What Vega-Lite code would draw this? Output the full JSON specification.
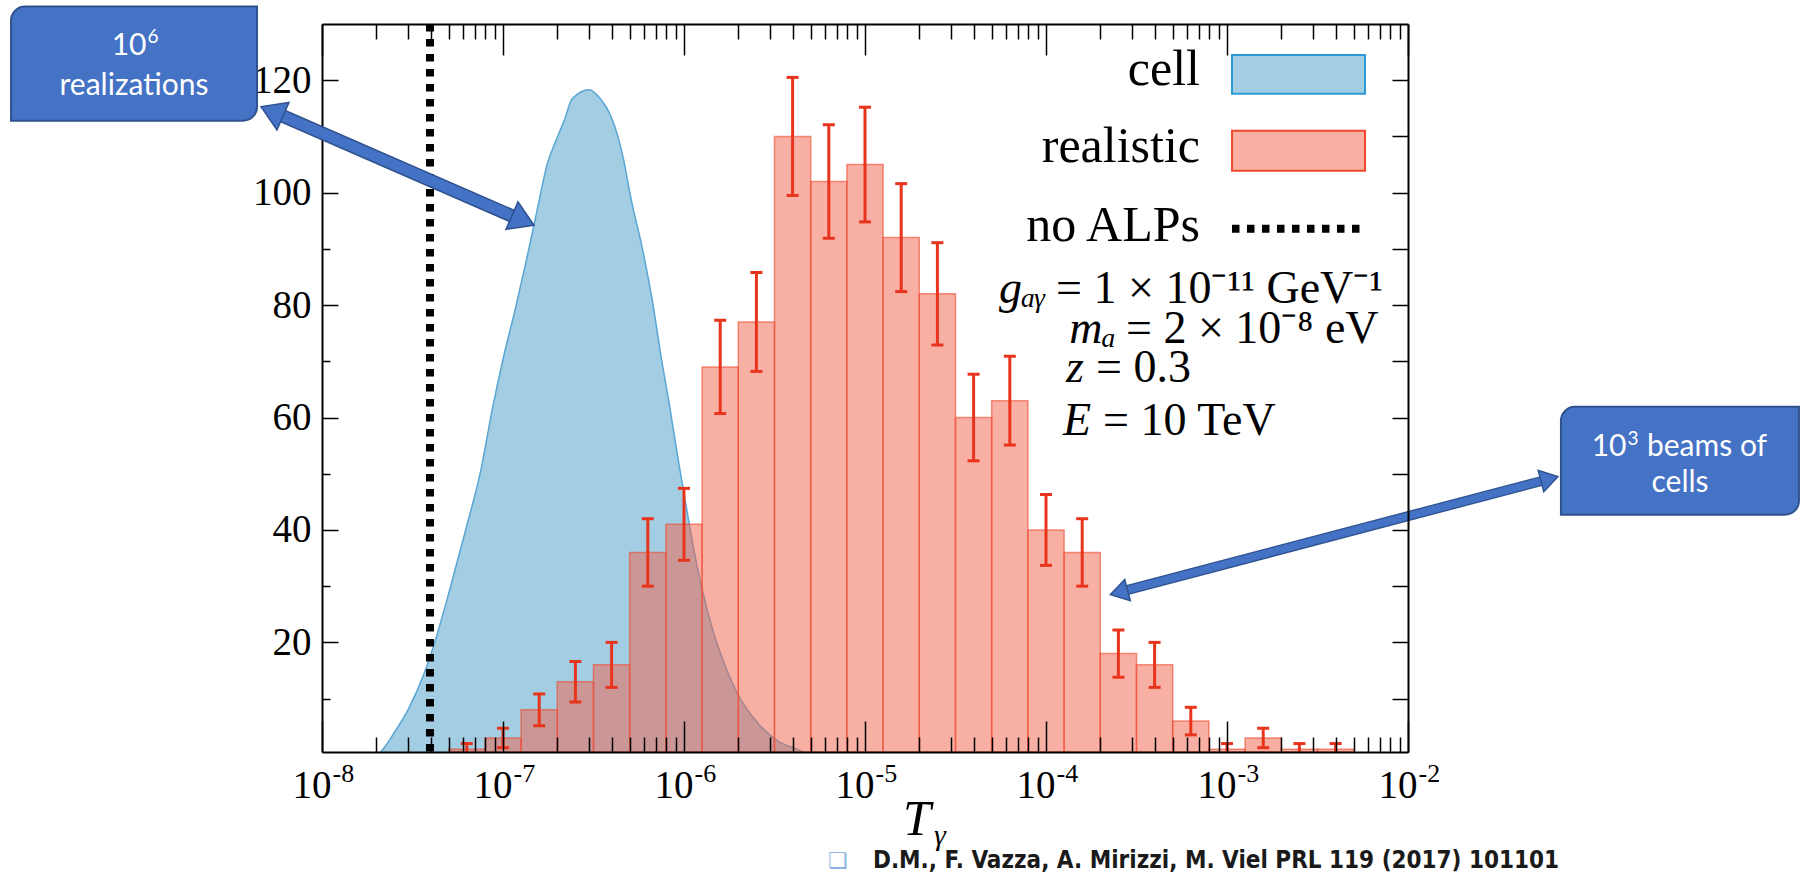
{
  "$schema": "https://vega.github.io/schema/vega-lite/v6.json",
  "width": 1086,
  "height": 728,
  "autosize": {"type": "none"},
  "padding": {"left": 322, "top": 24, "right": 393, "bottom": 124},
  "background": "white",
  "config": {"view": {"stroke": null}},
  "datasets": {
    "cell": [
      {"t": 2.05e-8, "n": 0}, {"t": 2.29e-8, "n": 2}, {"t": 2.48e-8, "n": 3.7}, {"t": 3.01e-8, "n": 8.2},
      {"t": 3.66e-8, "n": 14.4}, {"t": 4.23e-8, "n": 20.4}, {"t": 5.13e-8, "n": 29.9}, {"t": 6.22e-8, "n": 40},
      {"t": 7.55e-8, "n": 50.7}, {"t": 8.73e-8, "n": 61.5}, {"t": 1.009e-7, "n": 70.9}, {"t": 1.167e-7, "n": 79.2},
      {"t": 1.349e-7, "n": 88.1}, {"t": 1.56e-7, "n": 97.6}, {"t": 1.762e-7, "n": 105.3}, {"t": 1.941e-7, "n": 108.9},
      {"t": 2.188e-7, "n": 113.0}, {"t": 2.41e-7, "n": 116.7}, {"t": 3.0e-7, "n": 118.3}, {"t": 3.467e-7, "n": 116.6},
      {"t": 3.908e-7, "n": 113.9}, {"t": 4.305e-7, "n": 110.1}, {"t": 4.634e-7, "n": 105.9}, {"t": 5.105e-7, "n": 98.8},
      {"t": 5.902e-7, "n": 89.9}, {"t": 6.668e-7, "n": 81.0}, {"t": 7.516e-7, "n": 70.3}, {"t": 8.279e-7, "n": 62.5},
      {"t": 9.354e-7, "n": 51.9}, {"t": 1.03e-6, "n": 44.1}, {"t": 1.135e-6, "n": 36.4}, {"t": 1.25e-6, "n": 29.9},
      {"t": 1.445e-6, "n": 22.1}, {"t": 1.671e-6, "n": 16.2}, {"t": 2.028e-6, "n": 10.2}, {"t": 2.582e-6, "n": 5.5},
      {"t": 3.289e-6, "n": 2.5}, {"t": 4.395e-6, "n": 0.75}, {"t": 4.842e-6, "n": 0}
    ],
    "real": [
      {"a": 5.012e-8, "b": 7.943e-8, "c": 6.31e-8, "n": 1, "lo": 0, "hi": 2},
      {"a": 7.943e-8, "b": 1.259e-7, "c": 1.0e-7, "n": 3, "lo": 1.27, "hi": 4.73},
      {"a": 1.259e-7, "b": 1.995e-7, "c": 1.585e-7, "n": 8, "lo": 5.17, "hi": 10.83},
      {"a": 1.995e-7, "b": 3.162e-7, "c": 2.512e-7, "n": 13, "lo": 9.4, "hi": 16.6},
      {"a": 3.162e-7, "b": 5.012e-7, "c": 3.981e-7, "n": 16, "lo": 12, "hi": 20},
      {"a": 5.012e-7, "b": 7.943e-7, "c": 6.31e-7, "n": 36, "lo": 30, "hi": 42},
      {"a": 7.943e-7, "b": 1.259e-6, "c": 1.0e-6, "n": 41, "lo": 34.6, "hi": 47.4},
      {"a": 1.259e-6, "b": 1.995e-6, "c": 1.585e-6, "n": 69, "lo": 60.7, "hi": 77.3},
      {"a": 1.995e-6, "b": 3.162e-6, "c": 2.512e-6, "n": 77, "lo": 68.2, "hi": 85.8},
      {"a": 3.162e-6, "b": 5.012e-6, "c": 3.981e-6, "n": 110, "lo": 99.5, "hi": 120.5},
      {"a": 5.012e-6, "b": 7.943e-6, "c": 6.31e-6, "n": 102, "lo": 91.9, "hi": 112.1},
      {"a": 7.943e-6, "b": 1.259e-5, "c": 1.0e-5, "n": 105, "lo": 94.8, "hi": 115.2},
      {"a": 1.259e-5, "b": 1.995e-5, "c": 1.585e-5, "n": 92, "lo": 82.4, "hi": 101.6},
      {"a": 1.995e-5, "b": 3.162e-5, "c": 2.512e-5, "n": 82, "lo": 72.9, "hi": 91.1},
      {"a": 3.162e-5, "b": 5.012e-5, "c": 3.981e-5, "n": 60, "lo": 52.3, "hi": 67.7},
      {"a": 5.012e-5, "b": 7.943e-5, "c": 6.31e-5, "n": 63, "lo": 55.1, "hi": 70.9},
      {"a": 7.943e-5, "b": 1.259e-4, "c": 1.0e-4, "n": 40, "lo": 33.7, "hi": 46.3},
      {"a": 1.259e-4, "b": 1.995e-4, "c": 1.585e-4, "n": 36, "lo": 30, "hi": 42},
      {"a": 1.995e-4, "b": 3.162e-4, "c": 2.512e-4, "n": 18, "lo": 13.8, "hi": 22.2},
      {"a": 3.162e-4, "b": 5.012e-4, "c": 3.981e-4, "n": 16, "lo": 12, "hi": 20},
      {"a": 5.012e-4, "b": 7.943e-4, "c": 6.31e-4, "n": 6, "lo": 3.55, "hi": 8.45},
      {"a": 7.943e-4, "b": 1.259e-3, "c": 1.0e-3, "n": 1, "lo": 0, "hi": 2},
      {"a": 1.259e-3, "b": 1.995e-3, "c": 1.585e-3, "n": 3, "lo": 1.27, "hi": 4.73},
      {"a": 1.995e-3, "b": 3.162e-3, "c": 2.512e-3, "n": 1, "lo": 0, "hi": 2},
      {"a": 3.162e-3, "b": 5.012e-3, "c": 3.981e-3, "n": 1, "lo": 0, "hi": 2}
    ],
    "labels": [
      {"id": "leg_cell", "text": "cell"},
      {"id": "leg_real", "text": "realistic"},
      {"id": "leg_noalp", "text": "no ALPs"},
      {"id": "p1i", "text": "gₐᵧ"}, {"id": "p1r", "text": "= 1 × 10⁻¹¹ GeV⁻¹"},
      {"id": "p2i", "text": "mₐ"}, {"id": "p2r", "text": "= 2 × 10⁻⁸ eV"},
      {"id": "p3i", "text": "z"}, {"id": "p3r", "text": "= 0.3"},
      {"id": "p4i", "text": "E"}, {"id": "p4r", "text": "= 10 TeV"},
      {"id": "xt", "text": "T"}, {"id": "xg", "text": "γ"},
      {"id": "b1n", "text": "10"}, {"id": "b1e", "text": "6"}, {"id": "b1b", "text": "realizations"},
      {"id": "b2n", "text": "10"}, {"id": "b2e", "text": "3"}, {"id": "b2a", "text": "beams of"}, {"id": "b2b", "text": "cells"},
      {"id": "bullet", "text": "❑"},
      {"id": "cite", "text": "D.M., F. Vazza, A. Mirizzi, M. Viel PRL 119 (2017) 101101"},
      {"id": "one", "text": ""}
    ]
  },
  "resolve": {"axis": {"x": "independent", "y": "independent"}},
  "layer": [
    {
      "data": {"name": "cell"},
      "mark": {"type": "area", "clip": true, "fill": "#a3cde2", "stroke": "#58a6d3", "strokeWidth": 1.5, "interpolate": "monotone"},
      "encoding": {
        "x": {"field": "t", "type": "quantitative", "scale": {"type": "log", "domain": [1e-8, 1e-2], "nice": false},
          "axis": {"orient": "bottom", "values": [1e-8, 2e-8, 3e-8, 4e-8, 5e-8, 6e-8, 7e-8, 8e-8, 9e-8, 1e-7, 2e-7, 3e-7, 4e-7, 5e-7, 6e-7, 7e-7, 8e-7, 9e-7, 1e-6, 2e-6, 3e-6, 4e-6, 5e-6, 6e-6, 7e-6, 8e-6, 9e-6, 1e-5, 2e-5, 3e-5, 4e-5, 5e-5, 6e-5, 7e-5, 8e-5, 9e-5, 1e-4, 2e-4, 3e-4, 4e-4, 5e-4, 6e-4, 7e-4, 8e-4, 9e-4, 1e-3, 2e-3, 3e-3, 4e-3, 5e-3, 6e-3, 7e-3, 8e-3, 9e-3, 1e-2],
            "title": null, "grid": false, "zindex": 1,
            "domainColor": "black", "domainWidth": 2,
            "tickColor": "black", "tickWidth": 1.5, "tickSize": -31,
            "tickDash": {"condition": {"test": "abs(log(datum.value)/LN10 - round(log(datum.value)/LN10)) < 0.001", "value": []}, "value": [15, 40]},
            "labelExpr": "abs(log(datum.value)/LN10 - round(log(datum.value)/LN10)) < 0.001 ? '10' : ''",
            "labelFont": "Liberation Serif", "labelFontSize": 39, "labelColor": "black",
            "labelAlign": "right", "labelOffset": 9,
            "labelPadding": 45, "labelBaseline": "top", "labelOverlap": false, "labelFlush": false, "labelBound": false}},
        "y": {"field": "n", "type": "quantitative", "scale": {"domain": [0.5, 130], "nice": false, "zero": false},
          "axis": {"orient": "left", "values": [10, 20, 30, 40, 50, 60, 70, 80, 90, 100, 110, 120],
            "title": null, "grid": false, "zindex": 0,
            "domainColor": "black", "domainWidth": 2,
            "tickColor": "black", "tickWidth": 1.5, "tickSize": -16,
            "tickDash": {"condition": {"test": "datum.value % 20 != 0", "value": [8, 40]}, "value": []},
            "labelExpr": "datum.value % 20 == 0 ? datum.label : ''",
            "labelFont": "Liberation Serif", "labelFontSize": 39, "labelColor": "black",
            "labelPadding": 27, "labelOverlap": false, "labelFlush": false, "labelBound": false}}
      }
    },
    {
      "data": {"name": "real"},
      "mark": {"type": "rect", "clip": true, "fill": "#f4614a", "fillOpacity": 0.5, "stroke": "#ee4a30", "strokeOpacity": 0.6, "strokeWidth": 1.5},
      "encoding": {
        "x": {"field": "a", "type": "quantitative", "scale": {"type": "log", "domain": [1e-8, 1e-2], "nice": false},
          "axis": {"orient": "top", "values": [1e-8, 2e-8, 3e-8, 4e-8, 5e-8, 6e-8, 7e-8, 8e-8, 9e-8, 1e-7, 2e-7, 3e-7, 4e-7, 5e-7, 6e-7, 7e-7, 8e-7, 9e-7, 1e-6, 2e-6, 3e-6, 4e-6, 5e-6, 6e-6, 7e-6, 8e-6, 9e-6, 1e-5, 2e-5, 3e-5, 4e-5, 5e-5, 6e-5, 7e-5, 8e-5, 9e-5, 1e-4, 2e-4, 3e-4, 4e-4, 5e-4, 6e-4, 7e-4, 8e-4, 9e-4, 1e-3, 2e-3, 3e-3, 4e-3, 5e-3, 6e-3, 7e-3, 8e-3, 9e-3, 1e-2],
            "title": null, "grid": false, "zindex": 1, "labels": false,
            "domainColor": "black", "domainWidth": 2,
            "tickColor": "black", "tickWidth": 1.5, "tickSize": -31,
            "tickDash": {"condition": {"test": "abs(log(datum.value)/LN10 - round(log(datum.value)/LN10)) < 0.001", "value": []}, "value": [15, 40]}}},
        "x2": {"field": "b"},
        "y": {"field": "n", "type": "quantitative", "scale": {"domain": [0.5, 130], "nice": false, "zero": false},
          "axis": {"orient": "right", "values": [10, 20, 30, 40, 50, 60, 70, 80, 90, 100, 110, 120],
            "title": null, "grid": false, "zindex": 1, "labels": false,
            "domainColor": "black", "domainWidth": 2,
            "tickColor": "black", "tickWidth": 1.5, "tickSize": -16}},
        "y2": {"datum": 0.5}
      }
    },
    {
      "data": {"name": "real"},
      "mark": {"type": "rule", "clip": true, "color": "#e8341c", "strokeWidth": 3},
      "encoding": {
        "x": {"field": "c", "type": "quantitative", "scale": {"type": "log", "domain": [1e-8, 1e-2], "nice": false},
          "axis": {"orient": "bottom", "values": [1e-8, 1e-7, 1e-6, 1e-5, 1e-4, 1e-3, 1e-2],
            "title": null, "grid": false, "zindex": 1, "domain": false, "ticks": false,
            "labelExpr": "'-' + (-round(log(datum.value)/LN10))",
            "labelFont": "Liberation Serif", "labelFontSize": 26, "labelColor": "black",
            "labelAlign": "left", "labelOffset": 10,
            "labelPadding": 8, "labelBaseline": "top", "labelOverlap": false, "labelFlush": false, "labelBound": false}},
        "y": {"field": "lo", "type": "quantitative", "scale": {"domain": [0.5, 130], "nice": false, "zero": false}, "axis": null},
        "y2": {"field": "hi"}
      }
    },
    {
      "data": {"name": "real"},
      "mark": {"type": "tick", "orient": "horizontal", "clip": true, "color": "#e8341c", "thickness": 3, "size": 12, "opacity": 1},
      "encoding": {
        "x": {"field": "c", "type": "quantitative", "scale": {"type": "log", "domain": [1e-8, 1e-2], "nice": false}, "axis": null},
        "y": {"field": "hi", "type": "quantitative", "scale": {"domain": [0.5, 130], "nice": false, "zero": false}, "axis": null}
      }
    },
    {
      "data": {"name": "real"},
      "mark": {"type": "tick", "orient": "horizontal", "clip": true, "color": "#e8341c", "thickness": 3, "size": 12, "opacity": 1},
      "encoding": {
        "x": {"field": "c", "type": "quantitative", "scale": {"type": "log", "domain": [1e-8, 1e-2], "nice": false}, "axis": null},
        "y": {"field": "lo", "type": "quantitative", "scale": {"domain": [0.5, 130], "nice": false, "zero": false}, "axis": null}
      }
    },
    {
      "data": {"name": "labels"},
      "transform": [{"filter": "datum.id == 'one'"}],
      "mark": {"type": "rule", "color": "black", "strokeWidth": 8, "strokeDash": [7.5, 7.5], "strokeCap": "butt"},
      "encoding": {
        "x": {"datum": 3.95e-8, "type": "quantitative", "scale": {"type": "log", "domain": [1e-8, 1e-2], "nice": false}, "axis": null}
      }
    },
    {
      "data": {"name": "labels"},
      "transform": [{"filter": "datum.id == 'one'"}],
      "mark": {"type": "rect", "fill": "#a3cde2", "stroke": "#2b9ad6", "strokeWidth": 2},
      "encoding": {
        "x": {"datum": 1.0656e-3, "type": "quantitative", "scale": {"type": "log", "domain": [1e-8, 1e-2], "nice": false}, "axis": null},
        "x2": {"datum": 5.786e-3},
        "y": {"datum": 124.5, "type": "quantitative", "scale": {"domain": [0.5, 130], "nice": false, "zero": false}, "axis": null},
        "y2": {"datum": 117.6}
      }
    },
    {
      "data": {"name": "labels"},
      "transform": [{"filter": "datum.id == 'one'"}],
      "mark": {"type": "rect", "fill": "#f9b0a2", "stroke": "#ef4a2c", "strokeWidth": 2},
      "encoding": {
        "x": {"datum": 1.0656e-3, "type": "quantitative", "scale": {"type": "log", "domain": [1e-8, 1e-2], "nice": false}, "axis": null},
        "x2": {"datum": 5.786e-3},
        "y": {"datum": 111.0, "type": "quantitative", "scale": {"domain": [0.5, 130], "nice": false, "zero": false}, "axis": null},
        "y2": {"datum": 103.9}
      }
    },
    {
      "data": {"name": "labels"},
      "transform": [{"filter": "datum.id == 'one'"}],
      "mark": {"type": "rule", "color": "black", "strokeWidth": 8, "strokeDash": [7.5, 7.5], "strokeCap": "butt"},
      "encoding": {
        "x": {"datum": 1.0656e-3, "type": "quantitative", "scale": {"type": "log", "domain": [1e-8, 1e-2], "nice": false}, "axis": null},
        "x2": {"datum": 5.786e-3},
        "y": {"datum": 93.56, "type": "quantitative", "scale": {"domain": [0.5, 130], "nice": false, "zero": false}, "axis": null}
      }
    },
    {
      "data": {"name": "labels"},
      "transform": [{"filter": "datum.id == 'leg_cell'"}],
      "mark": {"type": "text", "align": "right", "baseline": "alphabetic", "font": "Liberation Serif", "fontSize": 50, "color": "black"},
      "encoding": {
        "x": {"datum": 7.094e-4, "type": "quantitative", "scale": {"type": "log", "domain": [1e-8, 1e-2], "nice": false}, "axis": null},
        "y": {"datum": 119.2, "type": "quantitative", "scale": {"domain": [0.5, 130], "nice": false, "zero": false}, "axis": null},
        "text": {"field": "text"}
      }
    },
    {
      "data": {"name": "labels"},
      "transform": [{"filter": "datum.id == 'leg_real'"}],
      "mark": {"type": "text", "align": "right", "baseline": "alphabetic", "font": "Liberation Serif", "fontSize": 50, "color": "black"},
      "encoding": {
        "x": {"datum": 7.094e-4, "type": "quantitative", "scale": {"type": "log", "domain": [1e-8, 1e-2], "nice": false}, "axis": null},
        "y": {"datum": 105.5, "type": "quantitative", "scale": {"domain": [0.5, 130], "nice": false, "zero": false}, "axis": null},
        "text": {"field": "text"}
      }
    },
    {
      "data": {"name": "labels"},
      "transform": [{"filter": "datum.id == 'leg_noalp'"}],
      "mark": {"type": "text", "align": "right", "baseline": "alphabetic", "font": "Liberation Serif", "fontSize": 50, "color": "black"},
      "encoding": {
        "x": {"datum": 7.094e-4, "type": "quantitative", "scale": {"type": "log", "domain": [1e-8, 1e-2], "nice": false}, "axis": null},
        "y": {"datum": 91.4, "type": "quantitative", "scale": {"domain": [0.5, 130], "nice": false, "zero": false}, "axis": null},
        "text": {"field": "text"}
      }
    },
    {
      "data": {"name": "labels"},
      "transform": [{"filter": "datum.id == 'p1i'"}],
      "mark": {"type": "text", "align": "right", "baseline": "alphabetic", "font": "Liberation Serif", "fontStyle": "italic", "fontSize": 46, "color": "black"},
      "encoding": {
        "x": {"datum": 1.0e-4, "type": "quantitative", "scale": {"type": "log", "domain": [1e-8, 1e-2], "nice": false}, "axis": null},
        "y": {"datum": 80.4, "type": "quantitative", "scale": {"domain": [0.5, 130], "nice": false, "zero": false}, "axis": null},
        "text": {"field": "text"}
      }
    },
    {
      "data": {"name": "labels"},
      "transform": [{"filter": "datum.id == 'p1r'"}],
      "mark": {"type": "text", "align": "left", "dx": 10, "baseline": "alphabetic", "font": "Liberation Serif", "fontSize": 46, "color": "black"},
      "encoding": {
        "x": {"datum": 1.0e-4, "type": "quantitative", "scale": {"type": "log", "domain": [1e-8, 1e-2], "nice": false}, "axis": null},
        "y": {"datum": 80.4, "type": "quantitative", "scale": {"domain": [0.5, 130], "nice": false, "zero": false}, "axis": null},
        "text": {"field": "text"}
      }
    },
    {
      "data": {"name": "labels"},
      "transform": [{"filter": "datum.id == 'p2i'"}],
      "mark": {"type": "text", "align": "right", "baseline": "alphabetic", "font": "Liberation Serif", "fontStyle": "italic", "fontSize": 46, "color": "black"},
      "encoding": {
        "x": {"datum": 2.436e-4, "type": "quantitative", "scale": {"type": "log", "domain": [1e-8, 1e-2], "nice": false}, "axis": null},
        "y": {"datum": 73.3, "type": "quantitative", "scale": {"domain": [0.5, 130], "nice": false, "zero": false}, "axis": null},
        "text": {"field": "text"}
      }
    },
    {
      "data": {"name": "labels"},
      "transform": [{"filter": "datum.id == 'p2r'"}],
      "mark": {"type": "text", "align": "left", "dx": 10, "baseline": "alphabetic", "font": "Liberation Serif", "fontSize": 46, "color": "black"},
      "encoding": {
        "x": {"datum": 2.436e-4, "type": "quantitative", "scale": {"type": "log", "domain": [1e-8, 1e-2], "nice": false}, "axis": null},
        "y": {"datum": 73.3, "type": "quantitative", "scale": {"domain": [0.5, 130], "nice": false, "zero": false}, "axis": null},
        "text": {"field": "text"}
      }
    },
    {
      "data": {"name": "labels"},
      "transform": [{"filter": "datum.id == 'p3i'"}],
      "mark": {"type": "text", "align": "right", "baseline": "alphabetic", "font": "Liberation Serif", "fontStyle": "italic", "fontSize": 46, "color": "black"},
      "encoding": {
        "x": {"datum": 1.622e-4, "type": "quantitative", "scale": {"type": "log", "domain": [1e-8, 1e-2], "nice": false}, "axis": null},
        "y": {"datum": 66.4, "type": "quantitative", "scale": {"domain": [0.5, 130], "nice": false, "zero": false}, "axis": null},
        "text": {"field": "text"}
      }
    },
    {
      "data": {"name": "labels"},
      "transform": [{"filter": "datum.id == 'p3r'"}],
      "mark": {"type": "text", "align": "left", "dx": 12, "baseline": "alphabetic", "font": "Liberation Serif", "fontSize": 46, "color": "black"},
      "encoding": {
        "x": {"datum": 1.622e-4, "type": "quantitative", "scale": {"type": "log", "domain": [1e-8, 1e-2], "nice": false}, "axis": null},
        "y": {"datum": 66.4, "type": "quantitative", "scale": {"domain": [0.5, 130], "nice": false, "zero": false}, "axis": null},
        "text": {"field": "text"}
      }
    },
    {
      "data": {"name": "labels"},
      "transform": [{"filter": "datum.id == 'p4i'"}],
      "mark": {"type": "text", "align": "right", "baseline": "alphabetic", "font": "Liberation Serif", "fontStyle": "italic", "fontSize": 46, "color": "black"},
      "encoding": {
        "x": {"datum": 1.773e-4, "type": "quantitative", "scale": {"type": "log", "domain": [1e-8, 1e-2], "nice": false}, "axis": null},
        "y": {"datum": 56.9, "type": "quantitative", "scale": {"domain": [0.5, 130], "nice": false, "zero": false}, "axis": null},
        "text": {"field": "text"}
      }
    },
    {
      "data": {"name": "labels"},
      "transform": [{"filter": "datum.id == 'p4r'"}],
      "mark": {"type": "text", "align": "left", "dx": 12, "baseline": "alphabetic", "font": "Liberation Serif", "fontSize": 46, "color": "black"},
      "encoding": {
        "x": {"datum": 1.773e-4, "type": "quantitative", "scale": {"type": "log", "domain": [1e-8, 1e-2], "nice": false}, "axis": null},
        "y": {"datum": 56.9, "type": "quantitative", "scale": {"domain": [0.5, 130], "nice": false, "zero": false}, "axis": null},
        "text": {"field": "text"}
      }
    },
    {
      "data": {"name": "labels"},
      "transform": [{"filter": "datum.id == 'xt'"}],
      "mark": {"type": "text", "align": "left", "baseline": "alphabetic", "font": "Liberation Serif", "fontStyle": "italic", "fontSize": 50, "color": "black"},
      "encoding": {
        "x": {"datum": 1.622e-5, "type": "quantitative", "scale": {"type": "log", "domain": [1e-8, 1e-2], "nice": false}, "axis": null},
        "y": {"datum": -14.3, "type": "quantitative", "scale": {"domain": [0.5, 130], "nice": false, "zero": false}, "axis": null},
        "text": {"field": "text"}
      }
    },
    {
      "data": {"name": "labels"},
      "transform": [{"filter": "datum.id == 'xg'"}],
      "mark": {"type": "text", "align": "left", "baseline": "alphabetic", "font": "Liberation Serif", "fontStyle": "italic", "fontSize": 30, "color": "black"},
      "encoding": {
        "x": {"datum": 2.406e-5, "type": "quantitative", "scale": {"type": "log", "domain": [1e-8, 1e-2], "nice": false}, "axis": null},
        "y": {"datum": -16.1, "type": "quantitative", "scale": {"domain": [0.5, 130], "nice": false, "zero": false}, "axis": null},
        "text": {"field": "text"}
      }
    },
    {
      "data": {"name": "labels"},
      "transform": [{"filter": "datum.id == 'bullet'"}],
      "mark": {"type": "text", "align": "center", "baseline": "alphabetic", "font": "DejaVu Sans", "fontSize": 22, "color": "#8eb4e3"},
      "encoding": {
        "x": {"datum": 7.094e-6, "type": "quantitative", "scale": {"type": "log", "domain": [1e-8, 1e-2], "nice": false}, "axis": null},
        "y": {"datum": -20.1, "type": "quantitative", "scale": {"domain": [0.5, 130], "nice": false, "zero": false}, "axis": null},
        "text": {"field": "text"}
      }
    },
    {
      "data": {"name": "labels"},
      "transform": [{"filter": "datum.id == 'cite'"}],
      "mark": {"type": "text", "align": "left", "baseline": "alphabetic", "font": "DejaVu Sans Condensed", "fontWeight": "bold", "fontSize": 24, "color": "#1a1a1a"},
      "encoding": {
        "x": {"datum": 1.107e-5, "type": "quantitative", "scale": {"type": "log", "domain": [1e-8, 1e-2], "nice": false}, "axis": null},
        "y": {"datum": -20.1, "type": "quantitative", "scale": {"domain": [0.5, 130], "nice": false, "zero": false}, "axis": null},
        "text": {"field": "text"}
      }
    },
    {
      "data": {"name": "labels"},
      "transform": [{"filter": "datum.id == 'one'"}],
      "mark": {"type": "rect", "fill": "#4472c4", "stroke": "#2f528f", "strokeWidth": 2, "cornerRadiusTopLeft": 14, "cornerRadiusBottomRight": 14},
      "encoding": {
        "x": {"datum": 1.914e-10, "type": "quantitative", "scale": {"type": "log", "domain": [1e-8, 1e-2], "nice": false}, "axis": null},
        "x2": {"datum": 4.375e-9},
        "y": {"datum": 133.1, "type": "quantitative", "scale": {"domain": [0.5, 130], "nice": false, "zero": false}, "axis": null},
        "y2": {"datum": 112.8}
      }
    },
    {
      "data": {"name": "labels"},
      "transform": [{"filter": "datum.id == 'one'"}],
      "mark": {"type": "rect", "fill": "#4472c4", "stroke": "#2f528f", "strokeWidth": 2, "cornerRadiusTopLeft": 14, "cornerRadiusBottomRight": 14},
      "encoding": {
        "x": {"datum": 0.06998, "type": "quantitative", "scale": {"type": "log", "domain": [1e-8, 1e-2], "nice": false}, "axis": null},
        "x2": {"datum": 1.4454},
        "y": {"datum": 61.9, "type": "quantitative", "scale": {"domain": [0.5, 130], "nice": false, "zero": false}, "axis": null},
        "y2": {"datum": 42.7}
      }
    },
    {
      "data": {"name": "labels"},
      "transform": [{"filter": "datum.id == 'b1n'"}],
      "mark": {"type": "text", "align": "right", "baseline": "alphabetic", "font": "Lato", "fontSize": 30, "color": "white"},
      "encoding": {
        "x": {"datum": 1.072e-9, "type": "quantitative", "scale": {"type": "log", "domain": [1e-8, 1e-2], "nice": false}, "axis": null},
        "y": {"datum": 124.5, "type": "quantitative", "scale": {"domain": [0.5, 130], "nice": false, "zero": false}, "axis": null},
        "text": {"field": "text"}
      }
    },
    {
      "data": {"name": "labels"},
      "transform": [{"filter": "datum.id == 'b1e'"}],
      "mark": {"type": "text", "align": "left", "dx": 1, "baseline": "alphabetic", "font": "Lato", "fontSize": 19, "color": "white"},
      "encoding": {
        "x": {"datum": 1.072e-9, "type": "quantitative", "scale": {"type": "log", "domain": [1e-8, 1e-2], "nice": false}, "axis": null},
        "y": {"datum": 126.66, "type": "quantitative", "scale": {"domain": [0.5, 130], "nice": false, "zero": false}, "axis": null},
        "text": {"field": "text"}
      }
    },
    {
      "data": {"name": "labels"},
      "transform": [{"filter": "datum.id == 'b1b'"}],
      "mark": {"type": "text", "align": "center", "baseline": "alphabetic", "font": "Lato", "fontSize": 30, "color": "white"},
      "encoding": {
        "x": {"datum": 9.147e-10, "type": "quantitative", "scale": {"type": "log", "domain": [1e-8, 1e-2], "nice": false}, "axis": null},
        "y": {"datum": 117.4, "type": "quantitative", "scale": {"domain": [0.5, 130], "nice": false, "zero": false}, "axis": null},
        "text": {"field": "text"}
      }
    },
    {
      "data": {"name": "labels"},
      "transform": [{"filter": "datum.id == 'b2n'"}],
      "mark": {"type": "text", "align": "right", "baseline": "alphabetic", "font": "Lato", "fontSize": 30, "color": "white"},
      "encoding": {
        "x": {"datum": 0.1611, "type": "quantitative", "scale": {"type": "log", "domain": [1e-8, 1e-2], "nice": false}, "axis": null},
        "y": {"datum": 53.17, "type": "quantitative", "scale": {"domain": [0.5, 130], "nice": false, "zero": false}, "axis": null},
        "text": {"field": "text"}
      }
    },
    {
      "data": {"name": "labels"},
      "transform": [{"filter": "datum.id == 'b2e'"}],
      "mark": {"type": "text", "align": "left", "dx": 1, "baseline": "alphabetic", "font": "Lato", "fontSize": 19, "color": "white"},
      "encoding": {
        "x": {"datum": 0.1611, "type": "quantitative", "scale": {"type": "log", "domain": [1e-8, 1e-2], "nice": false}, "axis": null},
        "y": {"datum": 55.1, "type": "quantitative", "scale": {"domain": [0.5, 130], "nice": false, "zero": false}, "axis": null},
        "text": {"field": "text"}
      }
    },
    {
      "data": {"name": "labels"},
      "transform": [{"filter": "datum.id == 'b2a'"}],
      "mark": {"type": "text", "align": "left", "baseline": "alphabetic", "font": "Lato", "fontSize": 30, "color": "white"},
      "encoding": {
        "x": {"datum": 0.2091, "type": "quantitative", "scale": {"type": "log", "domain": [1e-8, 1e-2], "nice": false}, "axis": null},
        "y": {"datum": 53.17, "type": "quantitative", "scale": {"domain": [0.5, 130], "nice": false, "zero": false}, "axis": null},
        "text": {"field": "text"}
      }
    },
    {
      "data": {"name": "labels"},
      "transform": [{"filter": "datum.id == 'b2b'"}],
      "mark": {"type": "text", "align": "center", "baseline": "alphabetic", "font": "Lato", "fontSize": 30, "color": "white"},
      "encoding": {
        "x": {"datum": 0.3183, "type": "quantitative", "scale": {"type": "log", "domain": [1e-8, 1e-2], "nice": false}, "axis": null},
        "y": {"datum": 46.76, "type": "quantitative", "scale": {"domain": [0.5, 130], "nice": false, "zero": false}, "axis": null},
        "text": {"field": "text"}
      }
    },
    {
      "data": {"name": "labels"},
      "transform": [{"filter": "datum.id == 'one'"}],
      "mark": {"type": "rule", "color": "#2f528f", "strokeWidth": 13.5, "strokeCap": "butt"},
      "encoding": {
        "x": {"datum": 5.81e-9, "type": "quantitative", "scale": {"type": "log", "domain": [1e-8, 1e-2], "nice": false}, "axis": null},
        "x2": {"datum": 1.175e-7},
        "y": {"datum": 113.9, "type": "quantitative", "scale": {"domain": [0.5, 130], "nice": false, "zero": false}, "axis": null},
        "y2": {"datum": 95.57}
      }
    },
    {
      "data": {"name": "labels"},
      "transform": [{"filter": "datum.id == 'one'"}],
      "mark": {"type": "rule", "color": "#4472c4", "strokeWidth": 10.5, "strokeCap": "butt"},
      "encoding": {
        "x": {"datum": 5.81e-9, "type": "quantitative", "scale": {"type": "log", "domain": [1e-8, 1e-2], "nice": false}, "axis": null},
        "x2": {"datum": 1.175e-7},
        "y": {"datum": 113.9, "type": "quantitative", "scale": {"domain": [0.5, 130], "nice": false, "zero": false}, "axis": null},
        "y2": {"datum": 95.57}
      }
    },
    {
      "data": {"name": "labels"},
      "transform": [{"filter": "datum.id == 'one'"}],
      "mark": {"type": "rule", "color": "#2f528f", "strokeWidth": 10, "strokeCap": "butt"},
      "encoding": {
        "x": {"datum": 2.732e-4, "type": "quantitative", "scale": {"type": "log", "domain": [1e-8, 1e-2], "nice": false}, "axis": null},
        "x2": {"datum": 0.05605},
        "y": {"datum": 29.2, "type": "quantitative", "scale": {"domain": [0.5, 130], "nice": false, "zero": false}, "axis": null},
        "y2": {"datum": 48.8}
      }
    },
    {
      "data": {"name": "labels"},
      "transform": [{"filter": "datum.id == 'one'"}],
      "mark": {"type": "rule", "color": "#4472c4", "strokeWidth": 7.5, "strokeCap": "butt"},
      "encoding": {
        "x": {"datum": 2.732e-4, "type": "quantitative", "scale": {"type": "log", "domain": [1e-8, 1e-2], "nice": false}, "axis": null},
        "x2": {"datum": 0.05605},
        "y": {"datum": 29.2, "type": "quantitative", "scale": {"domain": [0.5, 130], "nice": false, "zero": false}, "axis": null},
        "y2": {"datum": 48.8}
      }
    },
    {
      "data": {"name": "labels"},
      "transform": [{"filter": "datum.id == 'one'"}],
      "mark": {"type": "point", "shape": "M0,0 L1,1.6 L-1,1.6 Z", "size": 900, "angle": 293.55, "filled": true, "fill": "#4472c4", "fillOpacity": 1, "stroke": "#2f528f", "strokeWidth": 1.5, "opacity": 1},
      "encoding": {
        "x": {"datum": 4.6e-9, "type": "quantitative", "scale": {"type": "log", "domain": [1e-8, 1e-2], "nice": false}, "axis": null},
        "y": {"datum": 115.3, "type": "quantitative", "scale": {"domain": [0.5, 130], "nice": false, "zero": false}, "axis": null}
      }
    },
    {
      "data": {"name": "labels"},
      "transform": [{"filter": "datum.id == 'one'"}],
      "mark": {"type": "point", "shape": "M0,0 L1,1.6 L-1,1.6 Z", "size": 900, "angle": 113.55, "filled": true, "fill": "#4472c4", "fillOpacity": 1, "stroke": "#2f528f", "strokeWidth": 1.5, "opacity": 1},
      "encoding": {
        "x": {"datum": 1.483e-7, "type": "quantitative", "scale": {"type": "log", "domain": [1e-8, 1e-2], "nice": false}, "axis": null},
        "y": {"datum": 94.2, "type": "quantitative", "scale": {"domain": [0.5, 130], "nice": false, "zero": false}, "axis": null}
      }
    },
    {
      "data": {"name": "labels"},
      "transform": [{"filter": "datum.id == 'one'"}],
      "mark": {"type": "point", "shape": "M0,0 L1,1.6 L-1,1.6 Z", "size": 484, "angle": 255.25, "filled": true, "fill": "#4472c4", "fillOpacity": 1, "stroke": "#2f528f", "strokeWidth": 1.5, "opacity": 1},
      "encoding": {
        "x": {"datum": 2.272e-4, "type": "quantitative", "scale": {"type": "log", "domain": [1e-8, 1e-2], "nice": false}, "axis": null},
        "y": {"datum": 28.5, "type": "quantitative", "scale": {"domain": [0.5, 130], "nice": false, "zero": false}, "axis": null}
      }
    },
    {
      "data": {"name": "labels"},
      "transform": [{"filter": "datum.id == 'one'"}],
      "mark": {"type": "point", "shape": "M0,0 L1,1.6 L-1,1.6 Z", "size": 484, "angle": 75.25, "filled": true, "fill": "#4472c4", "fillOpacity": 1, "stroke": "#2f528f", "strokeWidth": 1.5, "opacity": 1},
      "encoding": {
        "x": {"datum": 0.06741, "type": "quantitative", "scale": {"type": "log", "domain": [1e-8, 1e-2], "nice": false}, "axis": null},
        "y": {"datum": 49.5, "type": "quantitative", "scale": {"domain": [0.5, 130], "nice": false, "zero": false}, "axis": null}
      }
    }
  ]
}
